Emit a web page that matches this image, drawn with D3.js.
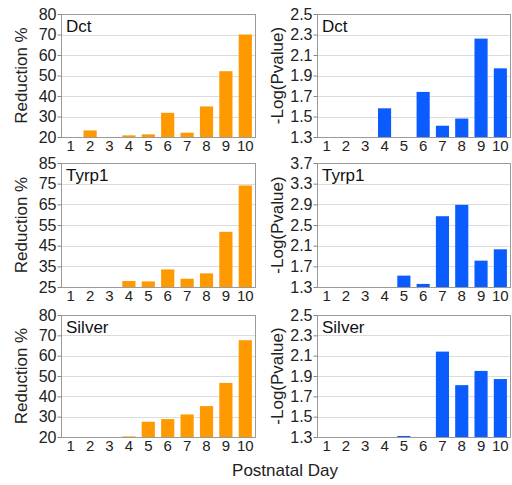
<!DOCTYPE html>
<html lang="en">
<head>
    <meta charset="UTF-8">
    <title>Reduction and -Log(Pvalue) by Postnatal Day</title>
    <script src="https://cdnjs.cloudflare.com/ajax/libs/d3/7.8.5/d3.min.js"></script>
    <style>
        body {
            margin: 0;
            background: #fff;
            font-family: "Liberation Sans", Arial, sans-serif;
        }
        .grid line {
            stroke: #dcdcdc;
            stroke-width: 1;
            shape-rendering: crispEdges;
        }
        .grid path { stroke-width: 0; }
        .frame {
            fill: none;
            stroke: #9a9a9a;
            stroke-width: 1;
            shape-rendering: crispEdges;
        }
        .y-axis path { stroke: none; }
        .y-axis line { stroke: #888; }
        .y-axis text {
            font-size: 16px;
            fill: #222;
        }
        .x-axis text {
            font-size: 15px;
            fill: #222;
        }
        .x-axis path, .x-axis line { stroke: none; }
        .axis-label {
            font-size: 17px;
            fill: #222;
            text-anchor: middle;
        }
        .panel-label {
            font-size: 17px;
            fill: #111;
        }
    </style>
</head>
<body>
    <div id="chart"></div>

    <script>
        // Postnatal days (x categories)
        const days = ["1", "2", "3", "4", "5", "6", "7", "8", "9", "10"];

        // Reduction % per gene (null = no bar drawn)
        const dctReduction    = [null, 23.2, null, 20.8, 21.3, 31.8, 22.1, 34.9, 52.1, 70.0];
        const tyrp1Reduction  = [null, null, null, 27.9, 27.7, 33.5, 29.0, 31.6, 51.7, 74.1];
        const silverReduction = [null, null, null, 20.3, 27.5, 28.8, 31.1, 35.2, 46.6, 67.6];

        // -Log(Pvalue) per gene
        const dctPvalue    = [null, null, null, 1.58, null, 1.74, 1.41, 1.48, 2.26, 1.97];
        const tyrp1Pvalue  = [null, null, null, null, 1.52, 1.36, 2.67, 2.89, 1.81, 2.03];
        const silverPvalue = [null, null, null, null, 1.31, null, 2.14, 1.81, 1.95, 1.87];

        // Y tick values for each panel
        const dctReductionTicks    = [20, 30, 40, 50, 60, 70, 80];
        const tyrp1ReductionTicks  = [25, 35, 45, 55, 65, 75, 85];
        const silverReductionTicks = [20, 30, 40, 50, 60, 70, 80];
        const dctPvalueTicks    = [1.3, 1.5, 1.7, 1.9, 2.1, 2.3, 2.5];
        const tyrp1PvalueTicks  = [1.3, 1.7, 2.1, 2.5, 2.9, 3.3, 3.7];
        const silverPvalueTicks = [1.3, 1.5, 1.7, 1.9, 2.1, 2.3, 2.5];

        const genes = ["Dct", "Tyrp1", "Silver"];

        const W = 512, H = 485;
        const svg = d3.select("#chart")
            .append("svg")
            .attr("width", W)
            .attr("height", H);

        // panel geometry
        const cols = [
            {x0: 61, x1: 255, label: "Reduction %", labelX: 21, color: "#ff9900", fmt: d3.format("d")},
            {x0: 317, x1: 510, label: "-Log(Pvalue)", labelX: 277, color: "#0a5cff", fmt: d3.format(".1f")}
        ];
        const rows = [
            {y0: 14, y1: 137},
            {y0: 163, y1: 287},
            {y0: 315, y1: 437}
        ];

        const panels = [
            {row: 0, col: 0, gene: genes[0], values: dctReduction, ticks: dctReductionTicks},
            {row: 0, col: 1, gene: genes[0], values: dctPvalue, ticks: dctPvalueTicks},
            {row: 1, col: 0, gene: genes[1], values: tyrp1Reduction, ticks: tyrp1ReductionTicks},
            {row: 1, col: 1, gene: genes[1], values: tyrp1Pvalue, ticks: tyrp1PvalueTicks},
            {row: 2, col: 0, gene: genes[2], values: silverReduction, ticks: silverReductionTicks},
            {row: 2, col: 1, gene: genes[2], values: silverPvalue, ticks: silverPvalueTicks}
        ];

        panels.forEach(p => {
            const c = cols[p.col], r = rows[p.row];

            const x = d3.scaleBand()
                .domain(days)
                .range([c.x0, c.x1])
                .paddingInner(0.32)
                .paddingOuter(0.16);

            const y = d3.scaleLinear()
                .domain(d3.extent(p.ticks))
                .range([r.y1, r.y0]);

            const g = svg.append("g");

            // horizontal grid lines
            g.append("g")
                .attr("class", "grid")
                .attr("transform", `translate(${c.x0},0)`)
                .call(d3.axisLeft(y).tickValues(p.ticks).tickSize(-(c.x1 - c.x0)).tickFormat(""));

            // bars
            const dataRows = days.map((d, i) => ({day: d, v: p.values[i]}))
                .filter(d => d.v !== null);
            g.selectAll("rect.bar")
                .data(dataRows)
                .enter().append("rect")
                .attr("class", "bar")
                .attr("x", d => x(d.day))
                .attr("width", x.bandwidth())
                .attr("y", d => y(d.v))
                .attr("height", d => y.range()[0] - y(d.v))
                .attr("fill", c.color);

            // frame
            g.append("rect")
                .attr("class", "frame")
                .attr("x", c.x0 + 0.5)
                .attr("y", r.y0 + 0.5)
                .attr("width", c.x1 - c.x0)
                .attr("height", r.y1 - r.y0);

            // y axis
            g.append("g")
                .attr("class", "y-axis")
                .attr("transform", `translate(${c.x0 + 0.5},0)`)
                .call(d3.axisLeft(y).tickValues(p.ticks).tickSize(4).tickPadding(1).tickFormat(c.fmt));

            // x axis
            g.append("g")
                .attr("class", "x-axis")
                .attr("transform", `translate(0,${r.y1})`)
                .call(d3.axisBottom(x).tickSize(0).tickPadding(3));

            // panel label
            g.append("text")
                .attr("class", "panel-label")
                .attr("x", c.x0 + 5)
                .attr("y", r.y0 + 18)
                .text(p.gene);

            // y axis label
            g.append("text")
                .attr("class", "axis-label")
                .attr("transform", `translate(${c.labelX},${(r.y0 + r.y1) / 2}) rotate(-90)`)
                .attr("dy", "0.35em")
                .text(c.label);
        });

        // shared x label
        svg.append("text")
            .attr("class", "axis-label")
            .attr("x", 285)
            .attr("y", 476)
            .text("Postnatal Day");
    </script>
</body>
</html>
